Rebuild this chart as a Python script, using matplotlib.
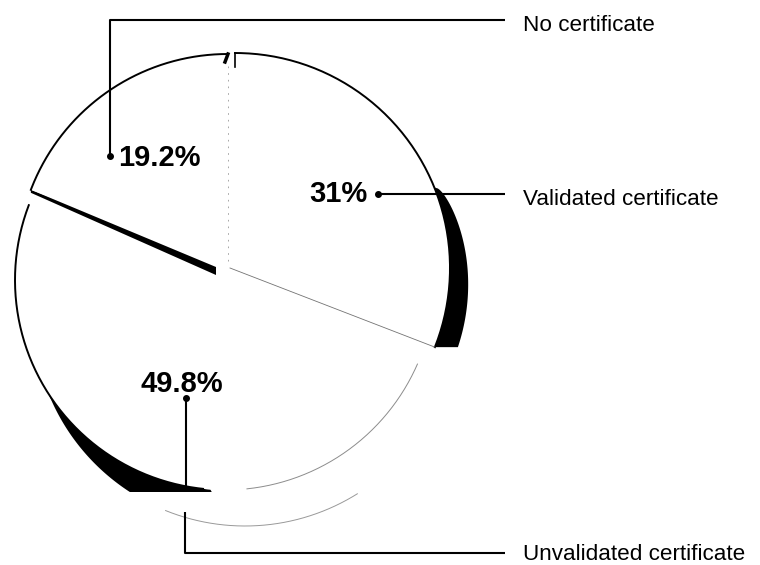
import numpy as np
import matplotlib.pyplot as plt
from matplotlib.patches import Polygon, Rectangle

labels = ["No certificate", "Validated certificate", "Unvalidated certificate"]
shares = [19.2, 31.0, 49.8]
pct_labels = ["19.2%", "31%", "49.8%"]

# slices run counter-clockwise from 12 o'clock in this order
order = [0, 2, 1]

# face centre and radius of each (exploded) slice, in pixels
centres = {0: (228, 265), 1: (235, 268), 2: (225, 280)}
radii = {0: 211, 1: 215, 2: 210}

plt.rcParams["font.family"] = ["Liberation Sans", "DejaVu Sans"]

fig = plt.figure(figsize=(7.6, 5.65), dpi=100)
ax = fig.add_axes([0, 0, 1, 1])
ax.set_xlim(0, 760)
ax.set_ylim(565, 0)
ax.axis("off")


def arc(cx, cy, r, a0, a1, n=150):
    t = np.radians(np.linspace(a0, a1, n))
    return np.column_stack([cx + r * np.cos(t), cy - r * np.sin(t)])


angles = {}
start = 90.0
for i in order:
    end = start + shares[i] * 3.6
    angles[i] = (start, end)
    start = end

# ---- side walls (drawn under the faces)
# no certificate: thin band under the lower cut edge
cx, cy = centres[0]
r = radii[0]
a0, a1 = angles[0]
edge = np.column_stack([np.linspace(cx - 12, cx + r * np.cos(np.radians(a1)), 60),
                        np.linspace(cy + 2, cy - r * np.sin(np.radians(a1)), 60)])
thick = np.linspace(8, 3, 60)
low = edge + np.column_stack([np.zeros(60), thick])
ax.add_patch(Polygon(np.vstack([edge, low[::-1]]), closed=True, fc="black", ec="none", zorder=1))

# unvalidated: extruded wall, dark on the lower left, open further right
cx, cy = centres[2]
r = radii[2]
a0, a1 = angles[2]
sx, sy = 20, 34
face = arc(cx, cy, r, a0, 266)
wall = np.vstack([face, arc(cx + sx, cy + sy, r + 2, 266, a0)])
p = Polygon(wall, closed=True, fc="black", ec="none", zorder=1)
ax.add_patch(p)
p.set_clip_path(Rectangle((0, 0), 760, 492, transform=ax.transData))
rim = arc(cx + sx, cy + sy, r + 2, 248, 302)
ax.plot(rim[:, 0], rim[:, 1], color="0.6", lw=0.7, zorder=1)

# validated: wall on the right, widening towards the bottom
cx, cy = centres[1]
r = radii[1]
a0, a1 = angles[1]
face = arc(cx, cy, r, 22 + 360, a0)
t = np.linspace(0, 1, len(face)) ** 0.4
shifted = face + np.column_stack([23 * t, np.zeros(len(face))])
ax.add_patch(Polygon(np.vstack([face, shifted[::-1]]), closed=True, fc="black", ec="none", zorder=1))

# ---- slice faces
for i in order:
    cx, cy = centres[i]
    a0, a1 = angles[i]
    pts = np.vstack([[cx, cy], arc(cx, cy, radii[i], a0, a1)])
    ax.add_patch(Polygon(pts, closed=True, fc="white", ec="none", zorder=2))

# ---- outlines
cx, cy = centres[0]
a0, a1 = angles[0]
o = arc(cx, cy, radii[0], a0, a1)
ax.plot(o[:, 0], o[:, 1], color="black", lw=1.4, zorder=3)
ax.plot([cx, cx], [cy - radii[0] + 12, cy], color="0.6", lw=0.6, ls=(0, (2, 6)), zorder=3)
ax.plot([cx, cx - 3], [cy - radii[0], cy - radii[0] + 8], color="black", lw=2.5, zorder=3)

cx, cy = centres[1]
a0, a1 = angles[1]
o = arc(cx, cy, radii[1], a0, a1)
ax.plot(o[:, 0], o[:, 1], color="black", lw=1.4, zorder=3)
ax.plot([cx, cx], [cy - radii[1], cy - radii[1] + 14], color="black", lw=1.2, zorder=3)
ex = cx + radii[1] * np.cos(np.radians(a0))
ey = cy - radii[1] * np.sin(np.radians(a0))
ax.plot([cx - 5, ex], [cy, ey], color="0.45", lw=0.6, zorder=3)

cx, cy = centres[2]
a0, a1 = angles[2]
o = arc(cx, cy, radii[2], a0, 264)
ax.plot(o[:, 0], o[:, 1], color="black", lw=1.4, zorder=3)
o = arc(cx, cy, radii[2], 276, a1 - 2)
ax.plot(o[:, 0], o[:, 1], color="0.55", lw=0.7, zorder=3)

# ---- value labels and leaders
line_kw = dict(color="black", lw=1.5, zorder=4, solid_capstyle="butt")
dot_kw = dict(marker="o", ms=4, color="black", zorder=5)
text_kw = dict(fontsize=16.2, va="baseline", ha="left")
pct_kw = dict(fontsize=21, fontweight="bold", va="baseline")

# no certificate
ax.plot([110, 110, 505], [156, 20, 20], **line_kw)
ax.plot(110, 156, **dot_kw)
ax.text(118, 166, pct_labels[0], ha="left", **pct_kw)
ax.text(523, 31, labels[0], **text_kw)

# validated
ax.plot([378, 505], [194, 194], **line_kw)
ax.plot(378, 194, **dot_kw)
ax.text(368, 202, pct_labels[1], ha="right", **pct_kw)
ax.text(523, 205, labels[1], **text_kw)

# unvalidated
ax.plot([186, 186], [398, 488], **line_kw)
ax.plot([185, 185, 505], [512, 553, 553], **line_kw)
ax.plot(186, 398, **dot_kw)
ax.text(182, 392, pct_labels[2], ha="center", **pct_kw)
ax.text(523, 560, labels[2], **text_kw)

fig.savefig("out.png", dpi=100, facecolor="white")
